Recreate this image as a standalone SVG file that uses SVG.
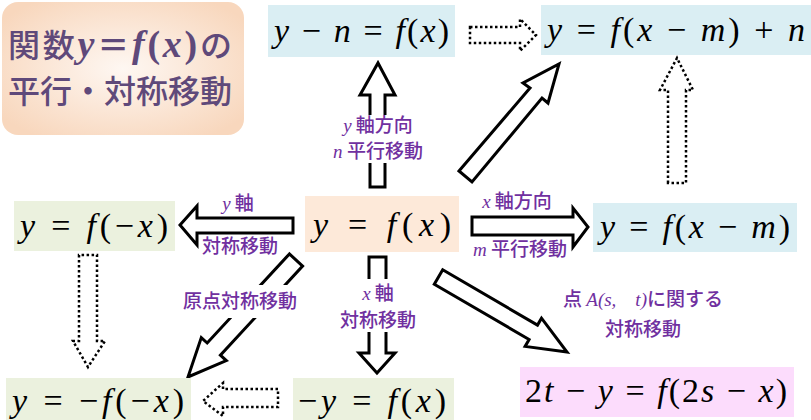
<svg xmlns="http://www.w3.org/2000/svg" width="811" height="420" viewBox="0 0 811 420">
<defs>
<radialGradient id="tg" cx="0.5" cy="0.5" r="0.62">
<stop offset="0" stop-color="#fef7f2"/>
<stop offset="1" stop-color="#f8d7bd"/>
</radialGradient>
<style>
.m{font-family:'Liberation Serif','DejaVu Serif',serif;font-size:34px;fill:#000}
.i{font-style:italic}
.lb{font-family:'Noto Sans CJK JP',sans-serif;font-size:19px;font-weight:500;fill:#7030a0}
.li{font-family:'Liberation Serif',serif;font-style:italic;font-weight:normal}
.tt{font-family:'Noto Sans CJK JP',sans-serif;font-size:32px;font-weight:500;fill:#5f497a}
.ts{font-family:'Liberation Serif',serif;font-size:38px;font-weight:bold}
.ar{fill:#fff;stroke:#000;stroke-width:3;stroke-linejoin:miter}
.dt{fill:none;stroke:#000;stroke-width:2.5;stroke-dasharray:2.5 2.5}
.blue{fill:#daeef3}.green{fill:#ebf1de}.peach{fill:#fde9d9}.pink{fill:#fcdcfc}
.wb{fill:#fff}
</style>
</defs>
<rect width="811" height="420" fill="#fff"/>

<g id="title">
<rect x="2" y="2" width="242" height="133" rx="16" fill="url(#tg)"/>
<text class="tt" x="8" y="57" textLength="224">関数<tspan class="ts" font-style="italic">y</tspan><tspan font-weight="bold">＝</tspan><tspan class="ts" font-style="italic">f</tspan><tspan class="ts">(</tspan><tspan class="ts" font-style="italic">x</tspan><tspan class="ts">)</tspan>の</text>
<text class="tt" x="8" y="103" textLength="224">平行・対称移動</text>
</g>

<g id="connectors">
<path class="ar" d="M370,187 L370,95 L360,95 L378,63 L395,95 L385,95 L385,187 Z"/>
<rect class="wb" x="335" y="115" width="86" height="48"/>
<path class="ar" d="M459,171 L530,88 L523,83 L559,64 L548,103 L542,98 L472,182 Z"/>
<path class="ar" d="M293,218 L197,218 L197,206 L180,225 L197,245 L197,233 L293,233 Z"/>
<path class="ar" d="M472,217 L573,217 L573,208 L588,227 L573,247 L573,235 L472,235 Z"/>
<path class="ar" d="M289.4,253.9 L207.2,343 L201.3,337.6 L188,377 L226.3,360.6 L220.4,355.2 L302.6,266.1 Z"/>
<rect class="wb" x="180" y="285" width="122" height="33"/>
<path class="ar" d="M369,257 L369,353 L359,353 L377,373 L395,353 L386,353 L386,257 Z"/>
<rect class="wb" x="335" y="279" width="86" height="53"/>
<path class="ar" d="M442.7,269.8 L537.5,325.1 L541.5,318.2 L567,352 L525.1,346.4 L529.1,339.5 L434.3,284.2 Z"/>
<path class="dt" d="M470,27 L520,27 L520,19 L536,35 L520,51 L520,43 L470,43 Z"/>
<path class="dt" d="M668,183 L668,90 L660,90 L677,58 L693,90 L686,90 L686,183 Z"/>
<path class="dt" d="M79,255 L79,341 L73,341 L88,367 L105,341 L97,341 L97,255 Z"/>
<path class="dt" d="M278,389 L223,389 L223,383 L203,401 L223,416 L223,407 L278,407 Z"/>
</g>

<g id="labels">
<text class="lb" x="378" y="132" text-anchor="middle"><tspan class="li">y</tspan> 軸方向</text>
<text class="lb" x="378" y="158" text-anchor="middle"><tspan class="li">n</tspan> 平行移動</text>
<text class="lb" x="238" y="210" text-anchor="middle"><tspan class="li">y</tspan> 軸</text>
<text class="lb" x="240" y="253" text-anchor="middle">対称移動</text>
<text class="lb" x="517" y="208" text-anchor="middle"><tspan class="li">x</tspan> 軸方向</text>
<text class="lb" x="520" y="256" text-anchor="middle"><tspan class="li">m</tspan> 平行移動</text>
<text class="lb" x="240" y="308" text-anchor="middle">原点対称移動</text>
<text class="lb" x="378" y="300" text-anchor="middle"><tspan class="li">x</tspan> 軸</text>
<text class="lb" x="378" y="327" text-anchor="middle">対称移動</text>
<text class="lb" x="643" y="306" text-anchor="middle">点 <tspan class="li">A(s,　t)</tspan>に関する</text>
<text class="lb" x="643" y="336" text-anchor="middle">対称移動</text>
</g>

<g id="n-ymn">
<rect class="blue" x="268" y="5" width="187" height="52"/>
<text class="m" x="274" y="42" textLength="175"><tspan class="i">y</tspan> − <tspan class="i">n</tspan> = <tspan class="i">f</tspan>(<tspan class="i">x</tspan>)</text>
</g>
<g id="n-both">
<rect class="blue" x="541" y="5" width="270" height="50"/>
<text class="m" x="547" y="41" textLength="258"><tspan class="i">y</tspan> = <tspan class="i">f</tspan>(<tspan class="i">x</tspan> − <tspan class="i">m</tspan>) + <tspan class="i">n</tspan></text>
</g>
<g id="n-center">
<rect class="peach" x="305" y="196" width="154" height="56"/>
<text class="m" x="313" y="236" font-size="38" textLength="138"><tspan class="i">y</tspan> = <tspan class="i">f</tspan>(<tspan class="i">x</tspan>)</text>
</g>
<g id="n-fmx">
<rect class="green" x="14" y="201" width="161" height="50"/>
<text class="m" x="20" y="237" textLength="148"><tspan class="i">y</tspan> = <tspan class="i">f</tspan>(−<tspan class="i">x</tspan>)</text>
</g>
<g id="n-xm">
<rect class="blue" x="593" y="203" width="204" height="49"/>
<text class="m" x="600" y="238" textLength="190"><tspan class="i">y</tspan> = <tspan class="i">f</tspan>(<tspan class="i">x</tspan> − <tspan class="i">m</tspan>)</text>
</g>
<g id="n-origin">
<rect class="green" x="6" y="378" width="185" height="42"/>
<text class="m" x="12" y="412" textLength="172"><tspan class="i">y</tspan> = −<tspan class="i">f</tspan>(−<tspan class="i">x</tspan>)</text>
</g>
<g id="n-xaxis">
<rect class="green" x="293" y="378" width="161" height="42"/>
<text class="m" x="298" y="412" textLength="148">−<tspan class="i">y</tspan> = <tspan class="i">f</tspan>(<tspan class="i">x</tspan>)</text>
</g>
<g id="n-point">
<rect class="pink" x="520" y="367" width="274" height="50"/>
<text class="m" x="525" y="402" textLength="262">2<tspan class="i">t</tspan> − <tspan class="i">y</tspan> = <tspan class="i">f</tspan>(2<tspan class="i">s</tspan> − <tspan class="i">x</tspan>)</text>
</g>
</svg>
